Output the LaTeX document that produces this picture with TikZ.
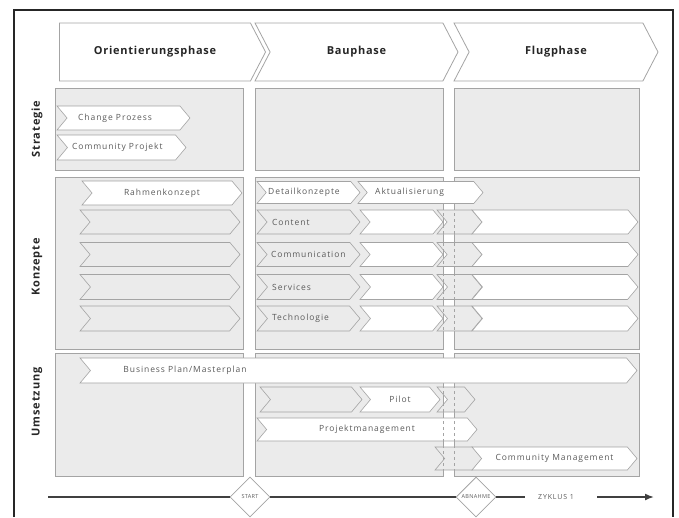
\documentclass[tikz,border=0pt]{standalone}
\usepackage{fontspec}
\setmainfont{Open Sans}
\usetikzlibrary{shapes.symbols,shapes.geometric,arrows.meta}
\definecolor{feldgrau}{HTML}{EBEBEB}
\definecolor{randgrau}{HTML}{A4A4A4}
\definecolor{textgrau}{HTML}{5A5A5A}
\begin{document}
\begin{tikzpicture}[x=1pt,y=-1pt]

	%DEFINITIONEN
	\tikzstyle{every node}=[font=\fontsize{8.5}{10}\selectfont\addfontfeatures{LetterSpace=11}, text=textgrau]
	\tikzstyle{phase} = [draw=randgrau, fill=white, line width=0.8pt, shape=signal, signal to=east, signal pointer angle=125, inner sep=0pt, outer sep=0pt, font=\fontsize{11}{12}\selectfont\bfseries\addfontfeatures{LetterSpace=7}, text=black!85]
	\tikzstyle{feld} = [draw=randgrau, fill=feldgrau, line width=0.8pt, inner sep=0pt, outer sep=0pt]
	\tikzstyle{pfeil} = [draw=randgrau, fill=white, line width=0.6pt, shape=signal, signal from=west, signal to=east, signal pointer angle=100, inner sep=0pt, outer sep=0pt]
	\tikzstyle{pfeilgrau} = [pfeil, fill=feldgrau]
	\tikzstyle{zeile} = [rotate=90, font=\fontsize{11}{12}\selectfont\bfseries\addfontfeatures{LetterSpace=8}, text=black!85]
	\tikzstyle{links} = [anchor=west, inner sep=0pt]
	\tikzstyle{raute} = [draw=randgrau, fill=white, diamond, minimum width=40pt, minimum height=40pt, inner sep=0pt, line width=0.8pt, font=\fontsize{5.5}{6}\selectfont\addfontfeatures{LetterSpace=6}]
	\tikzstyle{achse} = [line width=1.6pt, draw=black!75]
	\tikzstyle{trenn} = [draw=randgrau, dashed, line width=0.6pt]
	\tikzstyle{rahmen} = [line width=1.2pt, draw=black!85]

	\useasboundingbox (0,0) rectangle (679,517);
	\draw[rahmen] (14,517) -- (14,10) -- (673,10) -- (673,517);

	%PHASEN
	\draw(155,52) node[phase, minimum width=206pt, minimum height=58pt](orient){Orientierungsphase};
	\draw(356.5,52) node[phase, signal from=west, minimum width=203pt, minimum height=58pt](bau){Bauphase};
	\draw(556,52) node[phase, signal from=west, minimum width=204pt, minimum height=58pt](flug){Flugphase};

	%ZEILEN
	\draw(37,129) node[zeile](strategie){Strategie};
	\draw(37,267) node[zeile](konzepte){Konzepte};
	\draw(37,402) node[zeile](umsetzung){Umsetzung};

	%FELDER
	\draw(149,129) node[feld, minimum width=188pt, minimum height=82pt](s1){};
	\draw(349,129) node[feld, minimum width=188pt, minimum height=82pt](s2){};
	\draw(546.5,129) node[feld, minimum width=185pt, minimum height=82pt](s3){};
	\draw(149,263) node[feld, minimum width=188pt, minimum height=172pt](k1){};
	\draw(349,263) node[feld, minimum width=188pt, minimum height=172pt](k2){};
	\draw(546.5,263) node[feld, minimum width=185pt, minimum height=172pt](k3){};
	\draw(149,414.5) node[feld, minimum width=188pt, minimum height=123pt](u1){};
	\draw(349,414.5) node[feld, minimum width=188pt, minimum height=123pt](u2){};
	\draw(546.5,414.5) node[feld, minimum width=185pt, minimum height=123pt](u3){};

	%STRATEGIE
	\draw(123.5,118) node[pfeil, minimum width=133pt, minimum height=24pt](change){};
	\draw(78,118) node[links](changetext){Change Prozess};
	\draw(121.5,147.5) node[pfeil, minimum width=129pt, minimum height=25pt](projekt){};
	\draw(72,147.5) node[links](projekttext){Community Projekt};

	%KONZEPTE
	\draw(162,193) node[pfeil, minimum width=160pt, minimum height=24pt](rahmen){Rahmenkonzept};
	\draw(160,222) node[pfeilgrau, minimum width=160pt, minimum height=24pt](r1){};
	\draw(160,254.5) node[pfeilgrau, minimum width=160pt, minimum height=24pt](r2){};
	\draw(160,287) node[pfeilgrau, minimum width=160pt, minimum height=25pt](r3){};
	\draw(160,318.5) node[pfeilgrau, minimum width=160pt, minimum height=25pt](r4){};

	\draw(420.5,192.5) node[pfeil, minimum width=125pt, minimum height=22pt](aktual){};
	\draw(375,192.5) node[links](aktualtext){Aktualisierung};
	\draw(308.5,192.5) node[pfeil, minimum width=103pt, minimum height=22pt](detail){};
	\draw(268,192.5) node[links](detailtext){Detailkonzepte};

	\draw(459.5,222) node[pfeilgrau, minimum width=45pt, minimum height=24pt](content3){};
	\draw(308.5,222) node[pfeilgrau, minimum width=103pt, minimum height=24pt](content){};
	\draw(272,222) node[links](contenttext){Content};
	\draw(401.5,222) node[pfeil, minimum width=83pt, minimum height=24pt](content2){};
	\draw(555,222) node[pfeil, minimum width=166pt, minimum height=24pt](content4){};

	\draw(459.5,254.5) node[pfeilgrau, minimum width=45pt, minimum height=24pt](komm3){};
	\draw(308.5,254.5) node[pfeilgrau, minimum width=103pt, minimum height=24pt](komm){};
	\draw(271,254.5) node[links](kommtext){Communication};
	\draw(401.5,254.5) node[pfeil, minimum width=83pt, minimum height=24pt](komm2){};
	\draw(555,254.5) node[pfeil, minimum width=166pt, minimum height=24pt](komm4){};

	\draw(459.5,287) node[pfeilgrau, minimum width=45pt, minimum height=25pt](serv3){};
	\draw(308.5,287) node[pfeilgrau, minimum width=103pt, minimum height=25pt](serv){};
	\draw(272,287) node[links](servtext){Services};
	\draw(401.5,287) node[pfeil, minimum width=83pt, minimum height=25pt](serv2){};
	\draw(555,287) node[pfeil, minimum width=166pt, minimum height=25pt](serv4){};

	\draw(459.5,318.5) node[pfeilgrau, minimum width=45pt, minimum height=25pt](tech3){};
	\draw(308.5,318.5) node[pfeilgrau, minimum width=103pt, minimum height=25pt](tech){};
	\draw(272,318.5) node[links](techtext){Technologie};
	\draw(401.5,318.5) node[pfeil, minimum width=83pt, minimum height=25pt](tech2){};
	\draw(555,318.5) node[pfeil, minimum width=166pt, minimum height=25pt](tech4){};

	%UMSETZUNG
	\draw(358.5,370.5) node[pfeil, minimum width=557pt, minimum height=25pt](plan){};
	\draw(185,370.5) node(plantext){Business Plan/Masterplan};
	\draw(456,399.5) node[pfeilgrau, minimum width=38pt, minimum height=25pt](pilot3){};
	\draw(311,399.5) node[pfeilgrau, minimum width=102pt, minimum height=25pt](pilot1){};
	\draw(400,399.5) node[pfeil, minimum width=80pt, minimum height=25pt](pilot){Pilot};
	\draw(367,429.5) node[pfeil, minimum width=220pt, minimum height=23pt](projekt){Projektmanagement};
	\draw(458.5,458.5) node[pfeilgrau, minimum width=47pt, minimum height=23pt](cm1){};
	\draw(554.5,458.5) node[pfeil, minimum width=165pt, minimum height=23pt](cm){Community Management};

	%TRENNLINIEN
	\draw[trenn] (443,207) -- (443,334);
	\draw[trenn] (454,207) -- (454,334);
	\draw[trenn] (443,385) -- (443,473);
	\draw[trenn] (454,385) -- (454,473);

	%ZEITACHSE
	\coordinate (a0) at (48,497);
	\coordinate (a1) at (525,497);
	\coordinate (a2) at (597,497);
	\coordinate (a3) at (654,497);
	\draw(250,497) node[raute](start){START};
	\draw(476,497) node[raute](abnahme){ABNAHME};
	\draw(556,497) node[font=\fontsize{7}{8}\selectfont\addfontfeatures{LetterSpace=12}](zyklus){ZYKLUS 1};
	\draw[achse] (a0) -- (start.west);
	\draw[achse] (start.east) -- (abnahme.west);
	\draw[achse] (abnahme.east) -- (a1);
	\draw[achse, -{Latex[length=9pt,width=7pt]}] (a2) -- (a3);
\end{tikzpicture}
\end{document}
